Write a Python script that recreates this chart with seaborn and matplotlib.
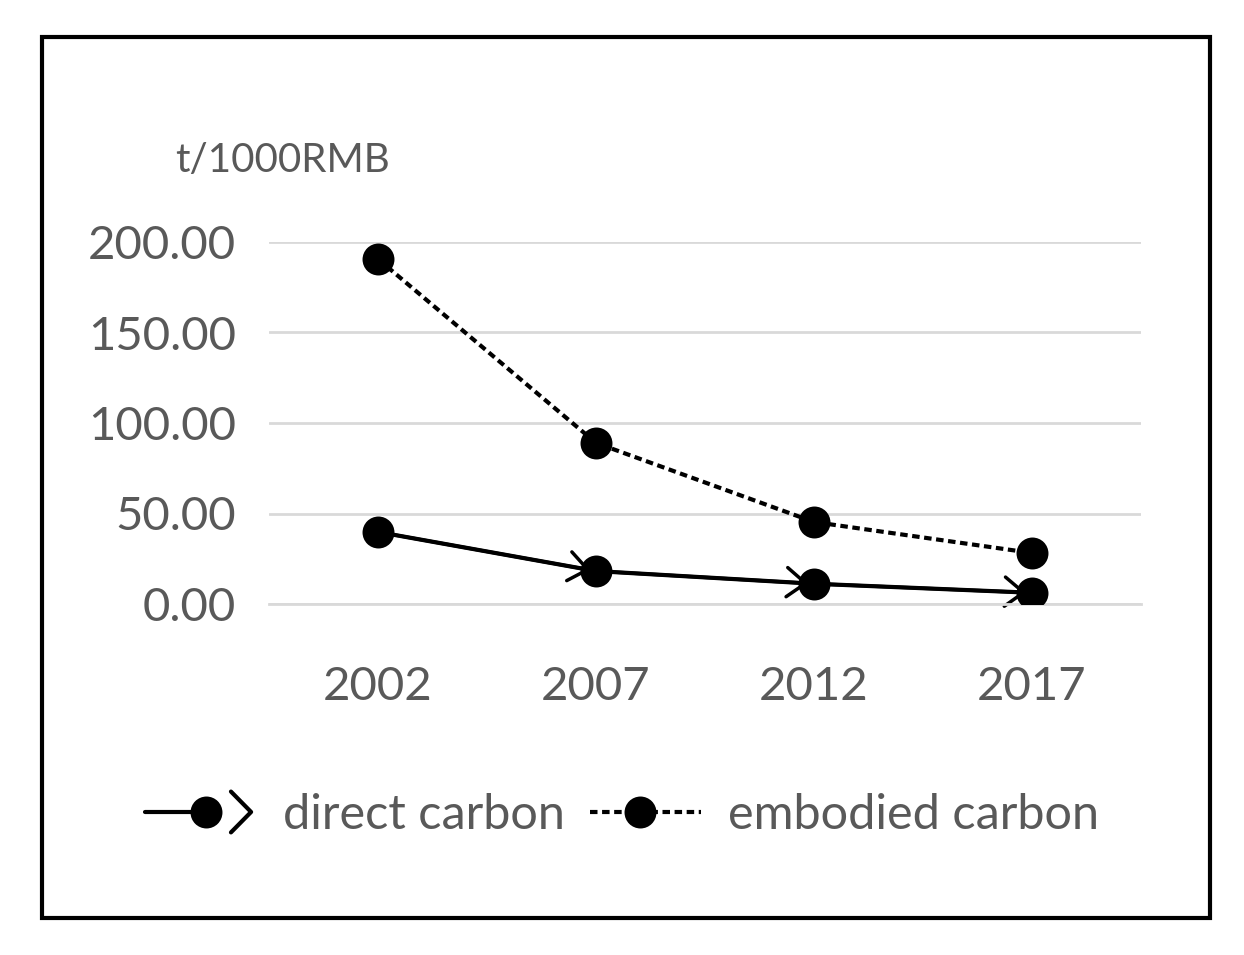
import matplotlib
matplotlib.use("Agg")
import matplotlib.pyplot as plt
import seaborn as sns
import pandas as pd
import numpy as np
from matplotlib.lines import Line2D
from matplotlib.patches import Rectangle
from matplotlib.legend_handler import HandlerBase

years = ["2002", "2007", "2012", "2017"]
direct_carbon = [39.8, 18.2, 11.2, 6.2]
embodied_carbon = [190.6, 89.0, 45.3, 28.2]
yticks = [0, 50, 100, 150, 200]
unit_label = "t/1000RMB"

sns.set_theme(style="white")
plt.rcParams["font.family"] = ["Lato", "DejaVu Sans"]
txt = "#595959"
DASH = (0, (1.8, 1.1))
MS = 23

fig = plt.figure(figsize=(12.44, 9.55), dpi=100)
ax = fig.add_axes([269/1244, 1-604/955, 872/1244, 362/955])

pos = np.arange(len(years))
df = pd.DataFrame({"x": pos, "direct": direct_carbon, "embodied": embodied_carbon})

sns.lineplot(data=df, x="x", y="embodied", ax=ax, color="black", lw=3,
             linestyle=DASH, marker="o", markersize=MS, markeredgewidth=0, zorder=3)
sns.lineplot(data=df, x="x", y="direct", ax=ax, color="black", lw=3,
             marker="o", markersize=MS, markeredgewidth=0, zorder=3)
for i in range(len(pos)-1):
    ax.annotate("", xy=(pos[i+1], direct_carbon[i+1]), xytext=(pos[i], direct_carbon[i]),
                arrowprops=dict(arrowstyle="->, head_length=0.45, head_width=0.35",
                                lw=2.5, color="black", shrinkA=0, shrinkB=4,
                                mutation_scale=30), zorder=2)

ax.set_xlim(-0.5, 3.5)
ax.set_ylim(0, 200)
ax.set_yticks(yticks)
ax.set_yticklabels([f"{v:.2f}" for v in yticks], fontsize=34, color=txt)
ax.set_xticks(pos)
ax.set_xticklabels(years, fontsize=34, color=txt)
ax.tick_params(axis="y", pad=24, length=0)
ax.tick_params(axis="x", pad=45, length=0)
ax.set_xlabel("")
ax.set_ylabel("")
ax.grid(axis="y", color="#d9d9d9", lw=2)
ax.set_axisbelow(True)
for s in ["top", "right", "left"]:
    ax.spines[s].set_visible(False)
ax.spines["bottom"].set_color("#d9d9d9")
ax.spines["bottom"].set_linewidth(2)

fig.text(175/1244, 1-160/955, unit_label, fontsize=29, color=txt, va="center", ha="left")


class ArrowLineHandler(HandlerBase):
    def __init__(self, arrow, **kw):
        super().__init__(**kw)
        self.arrow = arrow

    def create_artists(self, legend, orig, xdescent, ydescent, width, height, fontsize, trans):
        yc = height / 2 - ydescent
        x0 = -xdescent
        x1 = x0 + width
        arts = []
        if self.arrow:
            xm = x0 + width * 0.55
            ln = Line2D([x0, xm], [yc, yc], color="black", lw=3)
            mk = Line2D([xm], [yc], color="black", marker="o", markersize=MS, markeredgewidth=0, lw=0)
            cx = x1 - width * 0.05
            ch = Line2D([cx - width * 0.18, cx, cx - width * 0.18], [yc + height * 0.6, yc, yc - height * 0.6],
                        color="black", lw=3)
            arts = [ln, ch, mk]
        else:
            xm = x0 + width * 0.45
            ln = Line2D([x0, x1], [yc, yc], color="black", lw=3, linestyle=DASH)
            mk = Line2D([xm], [yc], color="black", marker="o", markersize=MS, markeredgewidth=0, lw=0)
            arts = [ln, mk]
        for a in arts:
            a.set_transform(trans)
        return arts


h1 = Line2D([], [], color="black")
h2 = Line2D([], [], color="black", linestyle=DASH)
leg = fig.legend([h1, h2], ["direct carbon", "embodied carbon"], loc="center",
                 bbox_to_anchor=(622/1244, 1-815/955), ncol=2, frameon=False,
                 fontsize=35, handlelength=2.3, columnspacing=0.5, handletextpad=0.55,
                 handler_map={h1: ArrowLineHandler(True), h2: ArrowLineHandler(False)})
for t in leg.get_texts():
    t.set_color(txt)

fig.patches.append(Rectangle((42/1244, 1-918/955), (1210-42)/1244, (918-37)/955,
                             transform=fig.transFigure, fill=False, lw=3, edgecolor="black"))

fig.savefig("out.png", dpi=100)
